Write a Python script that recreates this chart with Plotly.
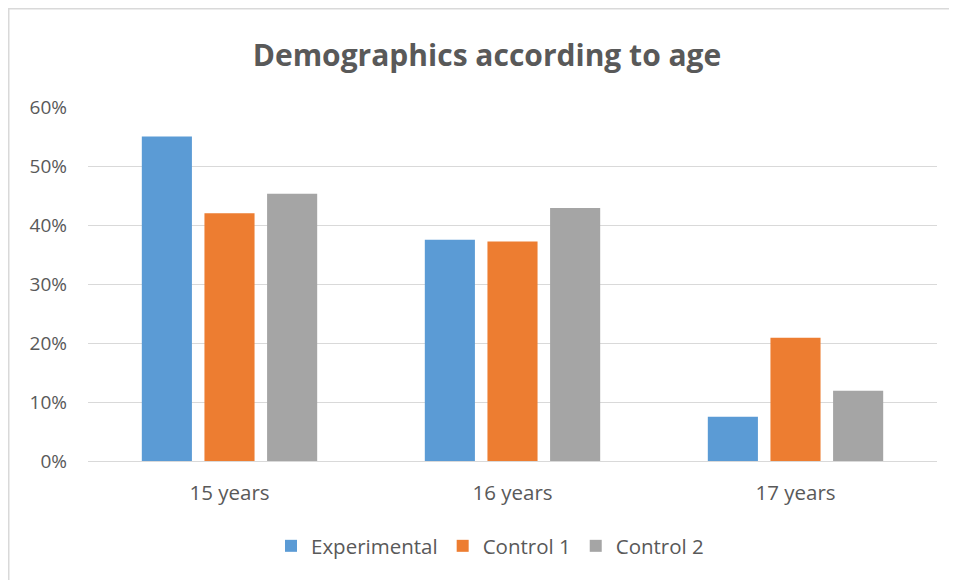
import plotly.graph_objects as go

categories = ["15 years", "16 years", "17 years"]
series_names = ["Experimental", "Control 1", "Control 2"]
experimental = [0.55, 0.375, 0.075]
control1 = [0.42, 0.372, 0.209]
control2 = [0.453, 0.429, 0.119]
colors = ["#5b9bd5", "#ed7d31", "#a5a5a5"]
y_ticks = [0, 0.1, 0.2, 0.3, 0.4, 0.5, 0.6]
y_labels = ["0%", "10%", "20%", "30%", "40%", "50%", "60%"]

# page body has an 8px default margin; compensate
OFF = 8
W, H = 957 - OFF, 580 - OFF
ml, mr, mt, mb = 88 - OFF, 20, 107 - OFF, 119
pw, ph = W - ml - mr, H - mt - mb

fig = go.Figure()
for name, vals, col in zip(series_names, [experimental, control1, control2], colors):
    fig.add_trace(go.Bar(x=categories, y=vals, name=name, marker=dict(color=col, line=dict(width=0))))

fig.update_layout(
    width=W, height=H,
    margin=dict(l=ml, r=mr, t=mt, b=mb),
    paper_bgcolor="white", plot_bgcolor="white",
    barmode="group", bargap=0.336, bargroupgap=0.2,
    title=dict(text="<b>Demographics according to age</b>", x=(487 - OFF) / W, xanchor="center",
               y=1 - (55 - OFF) / H, yanchor="middle",
               font=dict(family="Open Sans", size=30, color="#595959")),
    font=dict(family="Open Sans", size=19, color="#595959"),
    legend=dict(orientation="h", x=(490 - 88) / pw, xanchor="center",
                y=(461 - 546) / ph, yanchor="middle",
                font=dict(family="Open Sans", size=20.5, color="#595959"),
                itemwidth=30, traceorder="normal"),
    showlegend=True,
    shapes=[dict(type="rect", xref="paper", yref="paper",
                 x0=(0.75 - ml) / pw, x1=(W + 40 - ml) / pw,
                 y0=-(H - mt) / ph - 0.2, y1=1 + (mt - 0.75) / ph,
                 line=dict(color="#d9d9d9", width=1.5), layer="below")],
)
fig.update_xaxes(showgrid=False, showline=False, zeroline=False, ticks="",
                 ticklabelstandoff=17, tickfont=dict(size=20.5, color="#595959"))
fig.update_yaxes(range=[0, 0.6], tickvals=y_ticks, ticktext=y_labels, showgrid=True,
                 gridcolor="#d9d9d9", gridwidth=1, zeroline=True, zerolinecolor="#d9d9d9",
                 zerolinewidth=1, showline=False, ticks="", ticklabelstandoff=20,
                 tickfont=dict(size=19, color="#595959"))

fig.write_html("out.html")
